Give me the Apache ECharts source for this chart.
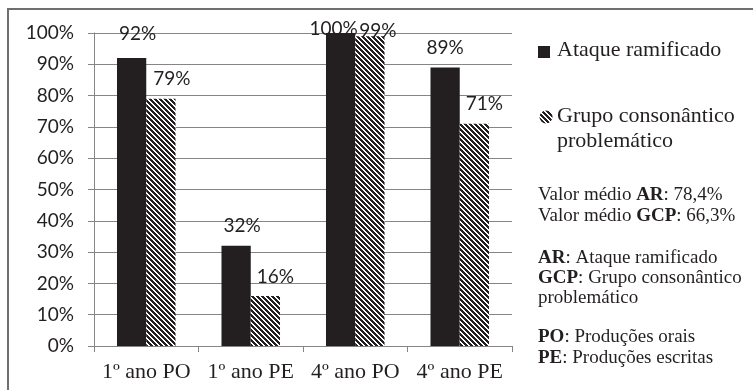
<!DOCTYPE html>
<html>
<head>
<meta charset="utf-8">
<script src="https://cdn.jsdelivr.net/npm/echarts@6/dist/echarts.min.js"></script>
<style>
  html, body { margin: 0; padding: 0; background: #ffffff; }
  #chart { width: 753px; height: 390px; }
</style>
</head>
<body>
<div id="chart"></div>
<script>
// Categories and percentages per group
const categories = ['1º ano PO', '1º ano PE', '4º ano PO', '4º ano PE'];
const ataqueRamificado = [92, 32, 100, 89];
const grupoConsonantico = [79, 16, 99, 71];
const seriesNames = ['Ataque ramificado', 'Grupo consonântico problemático'];

// Manual nudges for the value labels (dx, dy in px)
const arLabelShift = [[6, -5], [6, 0], [-7, 15], [0, 0]];
const gcpLabelShift = [[11, 0], [10, 0], [8, 14], [10, 0]];

const INK = '#231f20';
const GRIDC = '#858585';
const SANS = 'Lato, "Liberation Sans", sans-serif';
const SERIF = '"Liberation Serif", "Times New Roman", serif';

// Diagonal hatch fill ("\" direction)
function makeHatch() {
  const P = 5;
  const c = document.createElement('canvas');
  c.width = P; c.height = P;
  const ctx = c.getContext('2d');
  ctx.fillStyle = '#ffffff';
  ctx.fillRect(0, 0, P, P);
  ctx.fillStyle = INK;
  for (let y = 0; y < P; y++) {
    for (let x = 0; x < P; x++) {
      const k = ((x - y) % P + P) % P;
      if (k < 3) ctx.fillRect(x, y, 1, 1);
    }
  }
  return c;
}
const hatch = { image: makeHatch(), repeat: 'repeat' };

function withShift(values, shifts) {
  return values.map((v, i) => ({
    value: v,
    label: { offset: shifts[i] }
  }));
}

const chart = echarts.init(document.getElementById('chart'), null, { renderer: 'canvas' });

const valueLabel = {
  show: true,
  position: 'top',
  distance: 10,
  formatter: '{c}%',
  fontFamily: SANS,
  fontSize: 19,
  color: INK
};

const rich = {
  b: { fontFamily: SERIF, fontSize: 19, fontWeight: 'bold', color: INK }
};

function txt(x, y, text, size, lh) {
  return {
    type: 'text',
    left: x,
    top: y,
    style: {
      text: text,
      fontFamily: SERIF,
      fontSize: size,
      lineHeight: lh,
      fill: INK,
      rich: { b: Object.assign({ lineHeight: lh }, rich.b) }
    }
  };
}

chart.setOption({
  animation: false,
  backgroundColor: '#ffffff',
  grid: { left: 94, right: 241, top: 33, bottom: 44, containLabel: false },
  xAxis: {
    type: 'category',
    data: categories,
    axisLine: { lineStyle: { color: GRIDC, width: 1 } },
    axisTick: { show: true, length: 6, alignWithLabel: false, lineStyle: { color: GRIDC } },
    axisLabel: { interval: 0, fontFamily: SERIF, fontSize: 22, color: INK, margin: 15 },
    splitLine: { show: false }
  },
  yAxis: {
    type: 'value',
    min: 0,
    max: 100,
    interval: 10,
    axisLine: { show: true, lineStyle: { color: GRIDC, width: 1 } },
    axisTick: { show: true, length: 6, lineStyle: { color: GRIDC } },
    axisLabel: { formatter: '{value}%', fontFamily: SANS, fontSize: 19, color: INK, margin: 20 },
    splitLine: { show: true, lineStyle: { color: GRIDC, width: 1 } }
  },
  series: [
    {
      name: seriesNames[0],
      type: 'bar',
      data: withShift(ataqueRamificado, arLabelShift),
      barGap: '0%',
      barCategoryGap: '44%',
      itemStyle: { color: INK },
      label: valueLabel
    },
    {
      name: seriesNames[1],
      type: 'bar',
      data: withShift(grupoConsonantico, gcpLabelShift),
      barGap: '0%',
      barCategoryGap: '44%',
      itemStyle: { color: hatch },
      label: valueLabel
    }
  ],
  graphic: [
    // frame
    {
      type: 'rect',
      shape: { x: 8, y: 9, width: 800, height: 500 },
      style: { fill: 'none', stroke: '#6f6f6f', lineWidth: 2 },
      silent: true
    },
    // legend keys
    {
      type: 'rect',
      shape: { x: 538, y: 46, width: 12, height: 12 },
      style: { fill: INK }
    },
    {
      type: 'circle',
      shape: { cx: 546, cy: 117, r: 6.5 },
      style: { fill: hatch }
    },
    txt(557, 38, seriesNames[0], 22, 24),
    txt(557, 104, 'Grupo consonântico\nproblemático', 22, 25),
    txt(538, 185, 'Valor médio {b|AR}: 78,4%\nValor médio {b|GCP}: 66,3%', 19, 21),
    txt(538, 248, '{b|AR}: Ataque ramificado\n{b|GCP}: Grupo consonântico\nproblemático', 19, 20),
    txt(538, 327, '{b|PO}: Produções orais\n{b|PE}: Produções escritas', 19, 21)
  ]
});
</script>
</body>
</html>
